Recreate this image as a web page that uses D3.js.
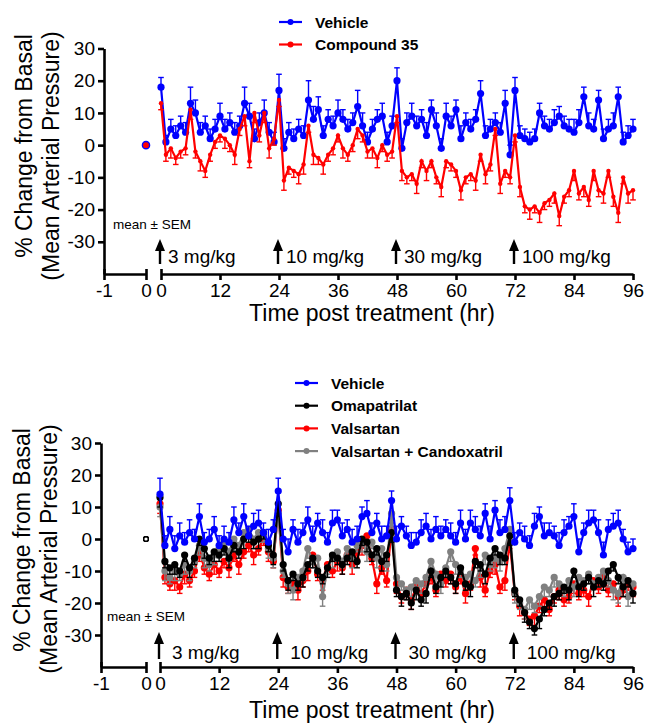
<!DOCTYPE html>
<html>
<head>
<meta charset="utf-8">
<script src="https://cdn.jsdelivr.net/npm/d3@7"></script>
<style>
  body { margin: 0; background: #fff; }
  text { font-family: "Liberation Sans", Arial, sans-serif; fill: #000; }
</style>
</head>
<body>
<svg id="chart" width="649" height="724"></svg>
<script>
// ---------- data (hourly, 0..96 h) ----------
var hours = d3.range(0, 97);
var yTicks = [-30, -20, -10, 0, 10, 20, 30];
var xTicksPre = [-1, 0];
var xTicksPost = [0, 12, 24, 36, 48, 60, 72, 84, 96];
var doseTimes = [0, 24, 48, 72];
var doseLabels = ["3 mg/kg", "10 mg/kg", "30 mg/kg", "100 mg/kg"];

// top panel
var topVehicle = [
  18, 1, 5, 3, 6, 4, 13, 10, 4, 6,
  2, 5, 9, 5, 7, 4, 6, 13, 9, 2,
  7, 10, 4, 1, 17, -1, 4, 2, 5, 3,
  14, 8, 11, 3, 8, 6, 10, 8, 5, 7,
  12, 6, 1, 5, 8, 9, 1, 6, 20, -1,
  7, 9, 6, 8, 3, 11, 6, -1, 9, 6,
  11, 2, 7, 5, 8, 16, 3, 5, 7, 4,
  13, -3, 17, 3, 2, 1, 2, 10, 6, 5,
  7, 9, 6, 5, 4, 7, 15, 6, 5, 14,
  2, 5, 6, 15, 1, 3, 5];
var topVehicleSem = [
  3, 2, 3, 3, 3, 3, 5, 4, 3, 3,
  3, 3, 4, 3, 3, 3, 3, 5, 4, 3,
  3, 4, 3, 3, 5, 3, 3, 3, 3, 3,
  6, 4, 4, 3, 3, 3, 4, 3, 3, 3,
  5, 4, 3, 3, 3, 4, 3, 3, 4, 3,
  3, 4, 3, 3, 4, 3, 4, 3, 4, 3,
  3, 4, 3, 3, 3, 4, 3, 3, 3, 3,
  4, 3, 4, 3, 3, 3, 3, 3, 3, 3,
  4, 3, 3, 3, 4, 4, 3, 4, 3, 3,
  3, 3, 4, 3, 3, 3, 3];
var topCompound = [
  13, -3, -1, -4, -2, -1, 11, -2, -5, -8,
  -3, 1, 3, 2, 0, -3, 5, 9, -5, 10,
  3, 10, -1, 2, 14, -11, -7, -8, -9, -6,
  6, -3, -4, -6, -3, -1, 3, -1, -3, 0,
  5, 3, -2, -1, -4, 0, -3, -2, 9, -8,
  -10, -9, -12, -5, -8, -5, -10, -13, -5, -6,
  -8, -14, -10, -9, -11, -3, -9, -6, 5, -12,
  -8, -10, 3, -13, -19, -20, -19, -21, -18, -17,
  -15, -22, -16, -14, -8, -15, -13, -17, -8, -14,
  -15, -8, -16, -21, -10, -15, -14];
var topCompoundSem = [
  2, 2, 3, 2, 2, 2, 3, 2, 3, 2,
  2, 2, 2, 3, 2, 3, 2, 3, 2, 3,
  2, 3, 3, 2, 2, 3, 2, 2, 3, 3,
  2, 3, 2, 3, 2, 2, 2, 3, 2, 2,
  3, 2, 2, 3, 3, 2, 2, 2, 2, 3,
  2, 2, 3, 2, 3, 2, 2, 3, 2, 2,
  2, 3, 2, 2, 3, 2, 3, 2, 2, 3,
  2, 2, 2, 3, 2, 3, 2, 3, 2, 2,
  3, 3, 2, 2, 3, 2, 3, 2, 3, 2,
  3, 2, 3, 3, 2, 3, 3];

// bottom panel
var botVehicle = [
  14, -2, 3, -3, 1, -1, 2, 0, 7, -1,
  0, 3, -2, 0, -1, 6, 2, 7, 1, 4,
  5, 2, -1, 3, 15, 0, -4, 3, -1, 2,
  6, 0, 5, 2, -1, 5, 6, 1, 3, -1,
  0, 7, 8, 2, 5, 0, 1, 12, 0, 4,
  1, -2, -1, 2, 4, 0, 3, 1, 3, 1,
  -1, 5, 0, 5, 3, 1, 8, 0, 9, 2,
  3, 12, -1, 2, 0, -2, 4, 7, 1, 2,
  1, -2, 2, 4, 7, -4, 2, 5, 6, 2,
  -5, 3, 4, 5, 0, -4, -3];
var botVehicleSem = [
  5, 3, 4, 4, 4, 3, 4, 3, 4, 3,
  3, 4, 3, 4, 3, 4, 3, 4, 3, 4,
  4, 3, 4, 3, 4, 3, 4, 3, 4, 3,
  4, 4, 3, 4, 3, 4, 3, 4, 3, 4,
  4, 3, 4, 3, 3, 4, 3, 3, 4, 3,
  3, 4, 3, 4, 4, 3, 4, 3, 3, 4,
  3, 4, 3, 4, 4, 3, 3, 4, 3, 4,
  4, 4, 3, 3, 4, 3, 4, 3, 4, 3,
  3, 4, 4, 3, 4, 4, 3, 4, 3, 4,
  4, 3, 4, 4, 3, 3, 3];
var botOmapatrilat = [
  13, -7, -9, -8, -10, -5, -9, -6, 0, -3,
  -6, -4, -5, -3, -6, -2, -4, 0, 1, -1,
  0, 2, -2, -5, 11, -8, -13, -11, -14, -12,
  -8, -6, -10, -12, -9, -5, -6, -8, -6, -4,
  -7, 0, -1, -5, -3, -7, -5, 2, -16, -18,
  -17, -20, -16, -19, -17, -10, -15, -12, -10, -12,
  -14, -9, -14, -15, -7, -8, -11, -6, -3, -5,
  -6, 1, -16, -19, -23, -26, -28, -25, -22, -20,
  -18, -17, -15, -16, -10, -15, -14, -12, -15, -13,
  -14, -10, -8, -12, -15, -13, -17];
var botOmapatrilatSem = [
  3, 2, 2, 3, 2, 2, 3, 2, 2, 3,
  2, 3, 2, 2, 3, 2, 2, 3, 2, 2,
  3, 2, 2, 3, 3, 2, 3, 2, 2, 3,
  2, 3, 2, 2, 3, 2, 2, 3, 2, 3,
  2, 2, 3, 2, 2, 3, 2, 3, 2, 3,
  2, 2, 3, 2, 3, 2, 2, 3, 2, 2,
  3, 2, 2, 3, 2, 2, 3, 2, 2, 3,
  2, 3, 2, 2, 3, 2, 2, 3, 2, 2,
  3, 2, 2, 3, 2, 3, 2, 2, 3, 2,
  2, 3, 2, 2, 3, 2, 3];
var botValsartan = [
  11, -12, -14, -13, -15, -11, -13, -10, -4, -9,
  -11, -8, -10, -7, -9, -5, -8, -4, -2, -5,
  -3, 0, -4, -7, 9, -12, -15, -14, -16, -13,
  -10, -5, -11, -13, -8, -10, -7, -9, -5, -8,
  -4, -2, 1, -6, -14, -9, -13, 3, -14, -18,
  -16, -19, -15, -17, -14, -12, -16, -11, -13, -11,
  -15, -12, -17, -14, -3, -12, -16, -10, -8, -15,
  -13, -1, -17, -21, -23, -25, -24, -21, -19, -22,
  -18, -16, -19, -18, -14, -17, -16, -18, -13, -15,
  -12, -16, -14, -18, -16, -14, -15];
var botValsartanSem = [
  3, 2, 2, 3, 2, 3, 2, 2, 3, 2,
  2, 3, 2, 2, 3, 2, 3, 2, 2, 3,
  2, 2, 3, 2, 2, 3, 2, 2, 3, 2,
  3, 2, 2, 3, 2, 2, 3, 2, 2, 3,
  2, 3, 2, 2, 3, 2, 2, 2, 3, 2,
  2, 3, 2, 2, 3, 2, 2, 3, 2, 3,
  2, 2, 3, 2, 2, 3, 2, 2, 3, 2,
  3, 2, 2, 3, 2, 2, 3, 2, 3, 2,
  2, 3, 2, 2, 3, 2, 2, 3, 2, 2,
  3, 2, 2, 3, 2, 2, 3];
var botCombo = [
  10, -10, -12, -10, -11, -8, -10, -7, -2, -6,
  -8, -5, -3, -1, -4, 0, -2, 2, 3, 0,
  2, 1, -3, -6, 8, -10, -14, -16, -12, -10,
  -3, -7, -6, -18, -9, -6, -4, -7, -3, -6,
  -2, -1, -4, -1, -6, -3, -8, 8, -12, -14,
  -16, -15, -13, -14, -12, -7, -11, -14, -9, -4,
  -8, -10, -12, -11, -13, -9, -5, -8, -6, -7,
  -3, 3, -17, -20, -22, -19, -21, -18, -15, -16,
  -12, -14, -16, -13, -15, -12, -13, -11, -14, -12,
  -10, -13, -16, -17, -12, -18, -14];
var botComboSem = [
  3, 3, 2, 3, 2, 3, 3, 2, 3, 3,
  2, 3, 3, 2, 3, 2, 3, 3, 2, 3,
  3, 2, 3, 3, 3, 2, 3, 3, 2, 3,
  3, 2, 3, 3, 2, 3, 3, 2, 3, 3,
  2, 3, 3, 2, 3, 3, 2, 3, 3, 2,
  3, 3, 2, 3, 3, 2, 3, 3, 2, 3,
  3, 2, 3, 3, 2, 3, 3, 2, 3, 3,
  2, 3, 3, 2, 3, 3, 2, 3, 3, 2,
  3, 3, 2, 3, 3, 2, 3, 3, 2, 3,
  3, 2, 3, 3, 2, 3, 3];

// ---------- drawing ----------
var svg = d3.select("#chart");
var fmt = function(d) { return String(d); };

function drawPanel(p, series) {
  var g = svg.append("g");

  // scales
  var y = d3.scaleLinear().domain([-40, 30]).range([p.axisY, p.topY]);
  var xPre = d3.scaleLinear().domain([-1, 0]).range([p.left, p.preEnd]);
  var xPost = d3.scaleLinear().domain([0, 96]).range([p.postStart, p.right]);

  // axes
  var yAxis = d3.axisLeft(y).tickValues(yTicks).tickFormat(fmt).tickSize(6).tickSizeOuter(0).tickPadding(3);
  var gy = g.append("g").attr("transform", "translate(" + p.left + ",0)").call(yAxis);
  var xAxisPre = d3.axisBottom(xPre).tickValues(xTicksPre).tickFormat(fmt).tickSize(6).tickSizeOuter(0).tickPadding(4);
  var gx1 = g.append("g").attr("transform", "translate(0," + p.axisY + ")").call(xAxisPre);
  var xAxisPost = d3.axisBottom(xPost).tickValues(xTicksPost).tickFormat(fmt).tickSize(6).tickSizeOuter(0).tickPadding(4);
  var gx2 = g.append("g").attr("transform", "translate(0," + p.axisY + ")").call(xAxisPost);

  [gy, gx1, gx2].forEach(function(a) {
    a.selectAll("path, line").attr("stroke", "#000").attr("stroke-width", 2.6);
    a.selectAll("text").style("font-size", "19px").attr("fill", "#000");
  });
  // small upward ticks at the segment breaks
  gx1.selectAll(".tick line").attr("y1", -5);
  gx2.select(".tick line").attr("y1", -5);

  // axis titles
  g.append("text")
    .attr("transform", "translate(" + p.titleX1 + "," + p.titleCY1 + ") rotate(-90)")
    .attr("text-anchor", "middle").style("font-size", "23px")
    .text("% Change from Basal");
  g.append("text")
    .attr("transform", "translate(" + p.titleX2 + "," + p.titleCY2 + ") rotate(-90)")
    .attr("text-anchor", "middle").style("font-size", "23px")
    .text("(Mean Arterial Pressure)");
  g.append("text")
    .attr("x", 372).attr("y", p.xTitleY)
    .attr("text-anchor", "middle").style("font-size", "23px")
    .text("Time post treatment (hr)");

  g.append("text")
    .attr("x", p.semX).attr("y", p.semY)
    .style("font-size", "13.5px")
    .text("mean \u00b1 SEM");

  // dose arrows
  doseTimes.forEach(function(d, i) {
    var ax = xPost(d) - 1;
    g.append("line")
      .attr("x1", ax).attr("x2", ax)
      .attr("y1", p.arrowTip + 8).attr("y2", p.arrowBase)
      .attr("stroke", "#000").attr("stroke-width", 2.4);
    g.append("path")
      .attr("d", "M" + (ax - 5) + "," + (p.arrowTip + 12) + "L" + ax + "," + p.arrowTip + "L" + (ax + 5) + "," + (p.arrowTip + 12) + "Z")
      .attr("fill", "#000");
    g.append("text")
      .attr("x", ax + p.labelDx).attr("y", p.labelY)
      .style("font-size", "19px")
      .text(doseLabels[i]);
  });

  // series
  var line = d3.line().x(function(d) { return xPost(d.t); }).y(function(d) { return y(d.v); });
  series.forEach(function(s) {
    var pts = hours.map(function(t, i) { return { t: t, v: s.values[i], e: s.sem[i] }; });
    var sg = g.append("g");

    // error bars (one-sided)
    sg.selectAll("line.err").data(pts).enter().append("line")
      .attr("x1", function(d) { return xPost(d.t); })
      .attr("x2", function(d) { return xPost(d.t); })
      .attr("y1", function(d) { return y(d.v); })
      .attr("y2", function(d) { return y(d.v + s.dir * d.e); })
      .attr("stroke", s.color).attr("stroke-width", 1.4);
    sg.selectAll("line.cap").data(pts).enter().append("line")
      .attr("x1", function(d) { return xPost(d.t) - 2.8; })
      .attr("x2", function(d) { return xPost(d.t) + 2.8; })
      .attr("y1", function(d) { return y(d.v + s.dir * d.e); })
      .attr("y2", function(d) { return y(d.v + s.dir * d.e); })
      .attr("stroke", s.color).attr("stroke-width", 1.4);

    sg.append("path").datum(pts)
      .attr("d", line)
      .attr("fill", "none").attr("stroke", s.color).attr("stroke-width", 2.2);

    sg.selectAll("circle").data(pts).enter().append("circle")
      .attr("cx", function(d) { return xPost(d.t); })
      .attr("cy", function(d) { return y(d.v); })
      .attr("r", s.r).attr("fill", s.color);
  });

  // baseline point at time 0 of the pre-treatment segment
  series.forEach(function(s) {
    g.append("circle")
      .attr("cx", xPre(0)).attr("cy", y(0)).attr("r", p.baseColor ? 2.3 : s.r)
      .attr("fill", p.baseColor ? "#fff" : s.color)
      .attr("stroke", p.baseColor || s.color).attr("stroke-width", 1.4);
  });

  // legend
  var lg = g.append("g");
  series.slice().sort(function(a, b) { return a.order - b.order; }).forEach(function(s, i) {
    var ly = p.legendY + i * p.legendStep;
    lg.append("line").attr("x1", p.legendX).attr("x2", p.legendX + 23)
      .attr("y1", ly).attr("y2", ly).attr("stroke", s.color).attr("stroke-width", 2.2);
    lg.append("circle").attr("cx", p.legendX + 11.5).attr("cy", ly).attr("r", 3).attr("fill", s.color);
    lg.append("text").attr("x", p.legendX + 36).attr("y", ly + 5.5)
      .style("font-size", "15.5px").style("font-weight", "bold")
      .text(s.name);
  });
}

drawPanel({
  left: 104, preEnd: 146, postStart: 161, right: 633,
  topY: 48.5, axisY: 274,
  titleX1: 32, titleX2: 59, titleCY1: 146, titleCY2: 156, xTitleY: 321,
  semX: 113, semY: 229, arrowTip: 239, arrowBase: 264, labelY: 263, labelDx: 8,
  legendX: 279, legendY: 22, legendStep: 22.5, baseColor: null
}, [
  { name: "Vehicle", values: topVehicle, sem: topVehicleSem, color: "#0000ff", dir: 1, r: 3.6, order: 0 },
  { name: "Compound 35", values: topCompound, sem: topCompoundSem, color: "#ff0000", dir: -1, r: 2.2, order: 1 }
]);

drawPanel({
  left: 101, preEnd: 146, postStart: 160, right: 633,
  topY: 443, axisY: 667,
  titleX1: 30, titleX2: 57, titleCY1: 540, titleCY2: 549, xTitleY: 718,
  semX: 107, semY: 621, arrowTip: 632, arrowBase: 659, labelY: 659, labelDx: 13,
  legendX: 295, legendY: 383, legendStep: 22.7, baseColor: "#000"
}, [
  { name: "Valsartan", values: botValsartan, sem: botValsartanSem, color: "#ff0000", dir: -1, r: 3.6, order: 2 },
  { name: "Valsartan + Candoxatril", values: botCombo, sem: botComboSem, color: "#808080", dir: -1, r: 3.6, order: 3 },
  { name: "Omapatrilat", values: botOmapatrilat, sem: botOmapatrilatSem, color: "#000000", dir: -1, r: 3.6, order: 1 },
  { name: "Vehicle", values: botVehicle, sem: botVehicleSem, color: "#0000ff", dir: 1, r: 3.6, order: 0 }
]);
</script>
</body>
</html>
